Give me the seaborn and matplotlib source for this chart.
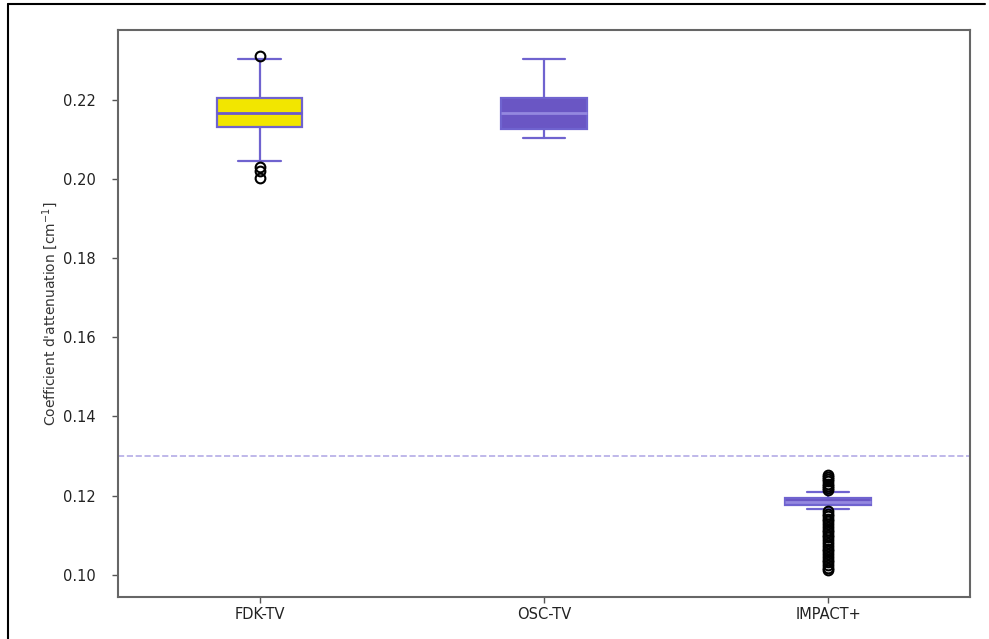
import matplotlib
matplotlib.use("Agg")
import matplotlib.pyplot as plt
import seaborn as sns
from matplotlib.lines import Line2D

sns.set_theme(style="white")
plt.rcParams['font.family'] = ['DejaVu Sans']

# summary stats
methods = ['FDK-TV', 'OSC-TV', 'IMPACT+']
whis_lo = [0.2046, 0.2104, 0.1166]
q1 = [0.2133, 0.2127, 0.1175]
medians = [0.2167, 0.2167, 0.1185]
q3 = [0.2205, 0.2205, 0.1194]
whis_hi = [0.2304, 0.2304, 0.1210]
outliers = [
    [0.2311, 0.2030, 0.2021, 0.2003],
    [],
    [0.1253, 0.1247, 0.1241, 0.1236, 0.1230, 0.1224, 0.1218, 0.1213,
     0.1160, 0.1154, 0.1148, 0.1141, 0.1135, 0.1128, 0.1121, 0.1114,
     0.1108, 0.1101, 0.1094, 0.1087, 0.1080, 0.1073, 0.1066, 0.1059,
     0.1052, 0.1045, 0.1038, 0.1031, 0.1024, 0.1017, 0.1013],
]
reference_line = 0.130

face_colors = ['#f2e600', '#6a56c4', '#6a56c4']
median_colors = ['#6a5acd', '#9488e0', '#9488e0']
edge = '#6f63cf'

stats = []
for i, name in enumerate(methods):
    stats.append(dict(label=name, whislo=whis_lo[i], q1=q1[i], med=medians[i],
                      q3=q3[i], whishi=whis_hi[i], fliers=outliers[i]))

fig = plt.figure(figsize=(9.89, 6.39), dpi=100)
ax = fig.add_axes([0.119, 0.066, 0.862, 0.887])

bp = ax.bxp(stats, widths=0.3, patch_artist=True,
            boxprops=dict(edgecolor=edge, linewidth=1.6),
            whiskerprops=dict(color=edge, linewidth=1.6),
            capprops=dict(color=edge, linewidth=1.6),
            flierprops=dict(marker='o', markerfacecolor='none', markeredgecolor='black',
                            markersize=7, markeredgewidth=1.5))
for patch, fc in zip(bp['boxes'], face_colors):
    patch.set_facecolor(fc)
for med, mc in zip(bp['medians'], median_colors):
    med.set_color(mc)
    med.set_linewidth(2)

ax.axhline(reference_line, color='#6a5acd', alpha=0.5, linestyle='--', linewidth=1.2)

ax.set_ylim(0.0944, 0.2377)
ax.set_yticks([0.10, 0.12, 0.14, 0.16, 0.18, 0.20, 0.22])
ax.set_ylabel("Coefficient d'attenuation [cm$^{-1}$]", fontsize=10, color='#333333',
              labelpad=2)
ax.tick_params(axis='both', which='both', length=4, width=1, color='#555555',
               labelsize=10.5, labelcolor='#222222', left=True, bottom=True)
ax.tick_params(axis='y', pad=12)
for s in ax.spines.values():
    s.set_color('#666666')
    s.set_linewidth(1.5)

# frame lines around the image (top and left)
fig.add_artist(Line2D([0.008, 0.996], [0.993, 0.993], transform=fig.transFigure,
                      color='black', linewidth=1.5))
fig.add_artist(Line2D([0.008, 0.008], [0.0, 0.993], transform=fig.transFigure,
                      color='black', linewidth=1.5))

fig.savefig('out.png', dpi=100)
